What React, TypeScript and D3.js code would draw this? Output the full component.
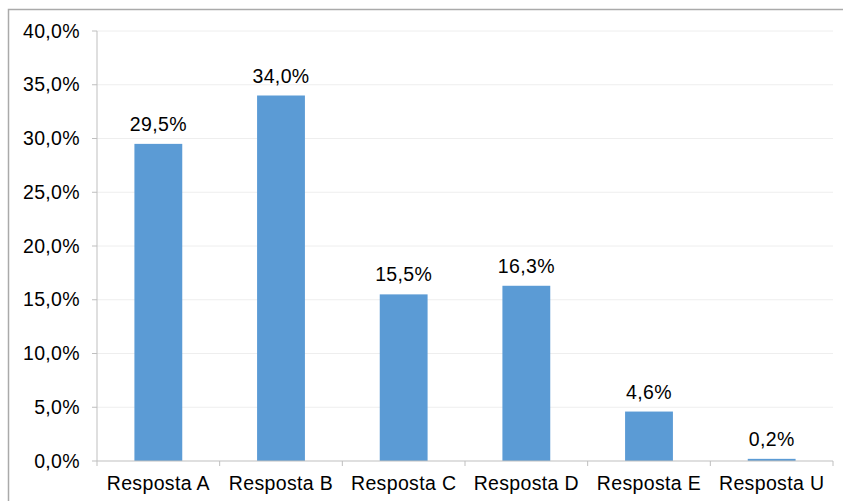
import React from "react";
import * as d3 from "d3";

const categories = ["Resposta A", "Resposta B", "Resposta C", "Resposta D", "Resposta E", "Resposta U"];
const values = [29.5, 34.0, 15.5, 16.3, 4.6, 0.2];
const yTicks = [0, 5, 10, 15, 20, 25, 30, 35, 40];

const W = 843;
const H = 501;
const left = 97;
const right = 833;
const top = 31;
const bottom = 461;

const fmt = (v: number) => v.toFixed(1).replace(".", ",") + "%";

export default function App() {
  const x = d3.scaleBand<string>().domain(categories).range([left, right]).paddingInner(0.61).paddingOuter(0.305);
  const xCat = d3.scaleBand<string>().domain(categories).range([left, right]);
  const y = d3.scaleLinear().domain([0, 40]).range([bottom, top]);
  const font = "'Liberation Sans', Arial, sans-serif";
  const fs = 19.5;
  const ls = 0.35;
  return (
    <svg width={W} height={H} style={{ position: "fixed", left: 0, top: 0 }} fontFamily={font} letterSpacing={ls}>
      <rect x={0} y={0} width={W} height={H} fill="#fff" />
      <rect x={8.5} y={9.5} width={W + 10} height={H + 10} fill="none" stroke="#aaa" strokeWidth={1.5} />
      {yTicks.map((t) => (
        <g key={t}>
          {t > 0 && <line x1={left} x2={right} y1={y(t)} y2={y(t)} stroke="#eeeeee" strokeWidth={1} />}
          <line x1={left - 5} x2={left} y1={y(t)} y2={y(t)} stroke="#bfbfbf" />
          <text x={80} y={y(t) + 6.5} textAnchor="end" fontSize={fs} fill="#000">
            {fmt(t)}
          </text>
        </g>
      ))}
      {values.map((v, i) => {
        const c = categories[i];
        const bx = x(c)!;
        const bw = x.bandwidth();
        return (
          <g key={c}>
            <rect x={bx} y={y(v)} width={bw} height={bottom - y(v)} fill="#5b9bd5" />
            <text x={bx + bw / 2} y={y(v) - 13} textAnchor="middle" fontSize={fs} fill="#000">
              {fmt(v)}
            </text>
            <text x={xCat(c)! + xCat.bandwidth() / 2} y={490} textAnchor="middle" fontSize={fs} fill="#000">
              {c}
            </text>
          </g>
        );
      })}
      <line x1={left} x2={left} y1={top} y2={bottom} stroke="#bfbfbf" />
      <line x1={left} x2={right} y1={bottom} y2={bottom} stroke="#bfbfbf" />
      {categories.concat([""]).map((_, i) => {
        const tx = left + i * xCat.bandwidth();
        return <line key={i} x1={tx} x2={tx} y1={bottom} y2={bottom + 5} stroke="#bfbfbf" />;
      })}
    </svg>
  );
}
